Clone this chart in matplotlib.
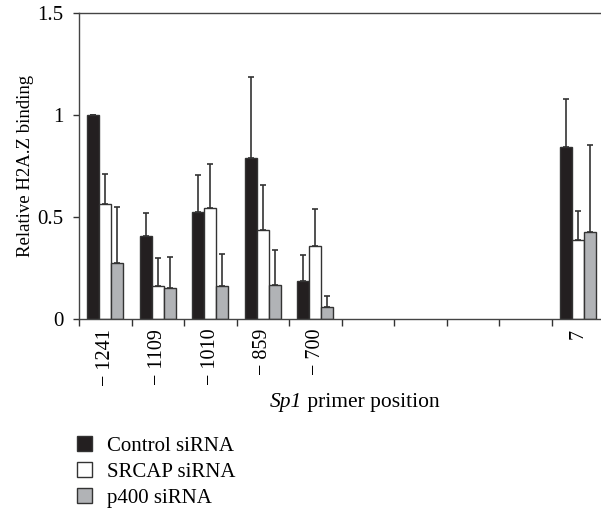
import numpy as np
import matplotlib.pyplot as plt

plt.rcParams['font.family'] = ['Liberation Serif', 'DejaVu Serif']

positions = ['\u2212 1241', '\u2212 1109', '\u2212 1010', '\u2212 859', '\u2212 700',
             '', '', '', '', '7']
nan = np.nan
control = [1.0, 0.408, 0.523, 0.789, 0.188, nan, nan, nan, nan, 0.843]
control_err = [0.0, 0.110, 0.184, 0.396, 0.124, nan, nan, nan, nan, 0.237]
srcap = [0.564, 0.163, 0.544, 0.436, 0.359, nan, nan, nan, nan, 0.386]
srcap_err = [0.146, 0.137, 0.216, 0.219, 0.179, nan, nan, nan, nan, 0.142]
p400 = [0.273, 0.153, 0.160, 0.168, 0.057, nan, nan, nan, nan, 0.428]
p400_err = [0.275, 0.151, 0.157, 0.169, 0.057, nan, nan, nan, nan, 0.425]

series = [('Control siRNA', control, control_err, '#231f20'),
          ('SRCAP siRNA', srcap, srcap_err, 'white'),
          ('p400 siRNA', p400, p400_err, '#b1b3b6')]

fig = plt.figure(figsize=(6.01, 5.09), dpi=100)
ax = fig.add_axes([79 / 601, 190 / 509, 525 / 601, 306 / 509])

x = np.arange(len(positions))
w = 0.23
for i, (name, vals, err, col) in enumerate(series):
    xs = x + (i - 1) * w
    vals = np.array(vals)
    err = np.array(err)
    ax.bar(xs, vals, width=w, color=col, edgecolor='#333333', linewidth=1.0,
           label=name, zorder=2)
    ax.errorbar(xs, vals, yerr=[np.zeros_like(err), err], fmt='none',
                ecolor='#333333', elinewidth=1.2, capsize=2.5, capthick=1.2, zorder=3)

ax.set_xlim(-0.5, len(positions) - 0.5)
ax.set_ylim(0, 1.5)
ax.set_yticks([0, 0.5, 1, 1.5])
ax.set_yticklabels(['0', '0.5', '1', '1.5'], fontsize=15)
ax.set_xticks(x)
ax.set_xticklabels(positions, rotation=90, fontsize=14.5)
ax.set_xticks(np.arange(len(positions) + 1) - 0.5, minor=True)
ax.tick_params(axis='x', which='major', length=0, pad=7)
ax.tick_params(axis='x', which='minor', length=5, width=1, color='#333333')
ax.tick_params(axis='y', length=4, width=1, color='#333333', pad=7)

ax.spines['right'].set_visible(False)
for s in ['left', 'top', 'bottom']:
    ax.spines[s].set_color('#444444')
    ax.spines[s].set_linewidth(1.0)

ax.set_ylabel('Relative H2A.Z binding', fontsize=13.5)
ax.yaxis.set_label_coords(-45 / 525, 0.5)

# x label with italic gene name
t1 = fig.text(270 / 601, 1 - 402 / 509, 'Sp1', style='italic', fontsize=15.5,
              ha='left', va='center')
fig.canvas.draw()
ax.annotate(' primer position', xy=(1, 0), xycoords=t1, fontsize=15.5,
            ha='left', va='bottom')

fig.legend(loc='upper left', bbox_to_anchor=(69 / 601, 1 - 428 / 509), frameon=False,
           fontsize=15, handlelength=0.72, handleheight=0.72, handletextpad=0.72,
           labelspacing=0.3, borderaxespad=0)

plt.savefig('out.png', dpi=100)
